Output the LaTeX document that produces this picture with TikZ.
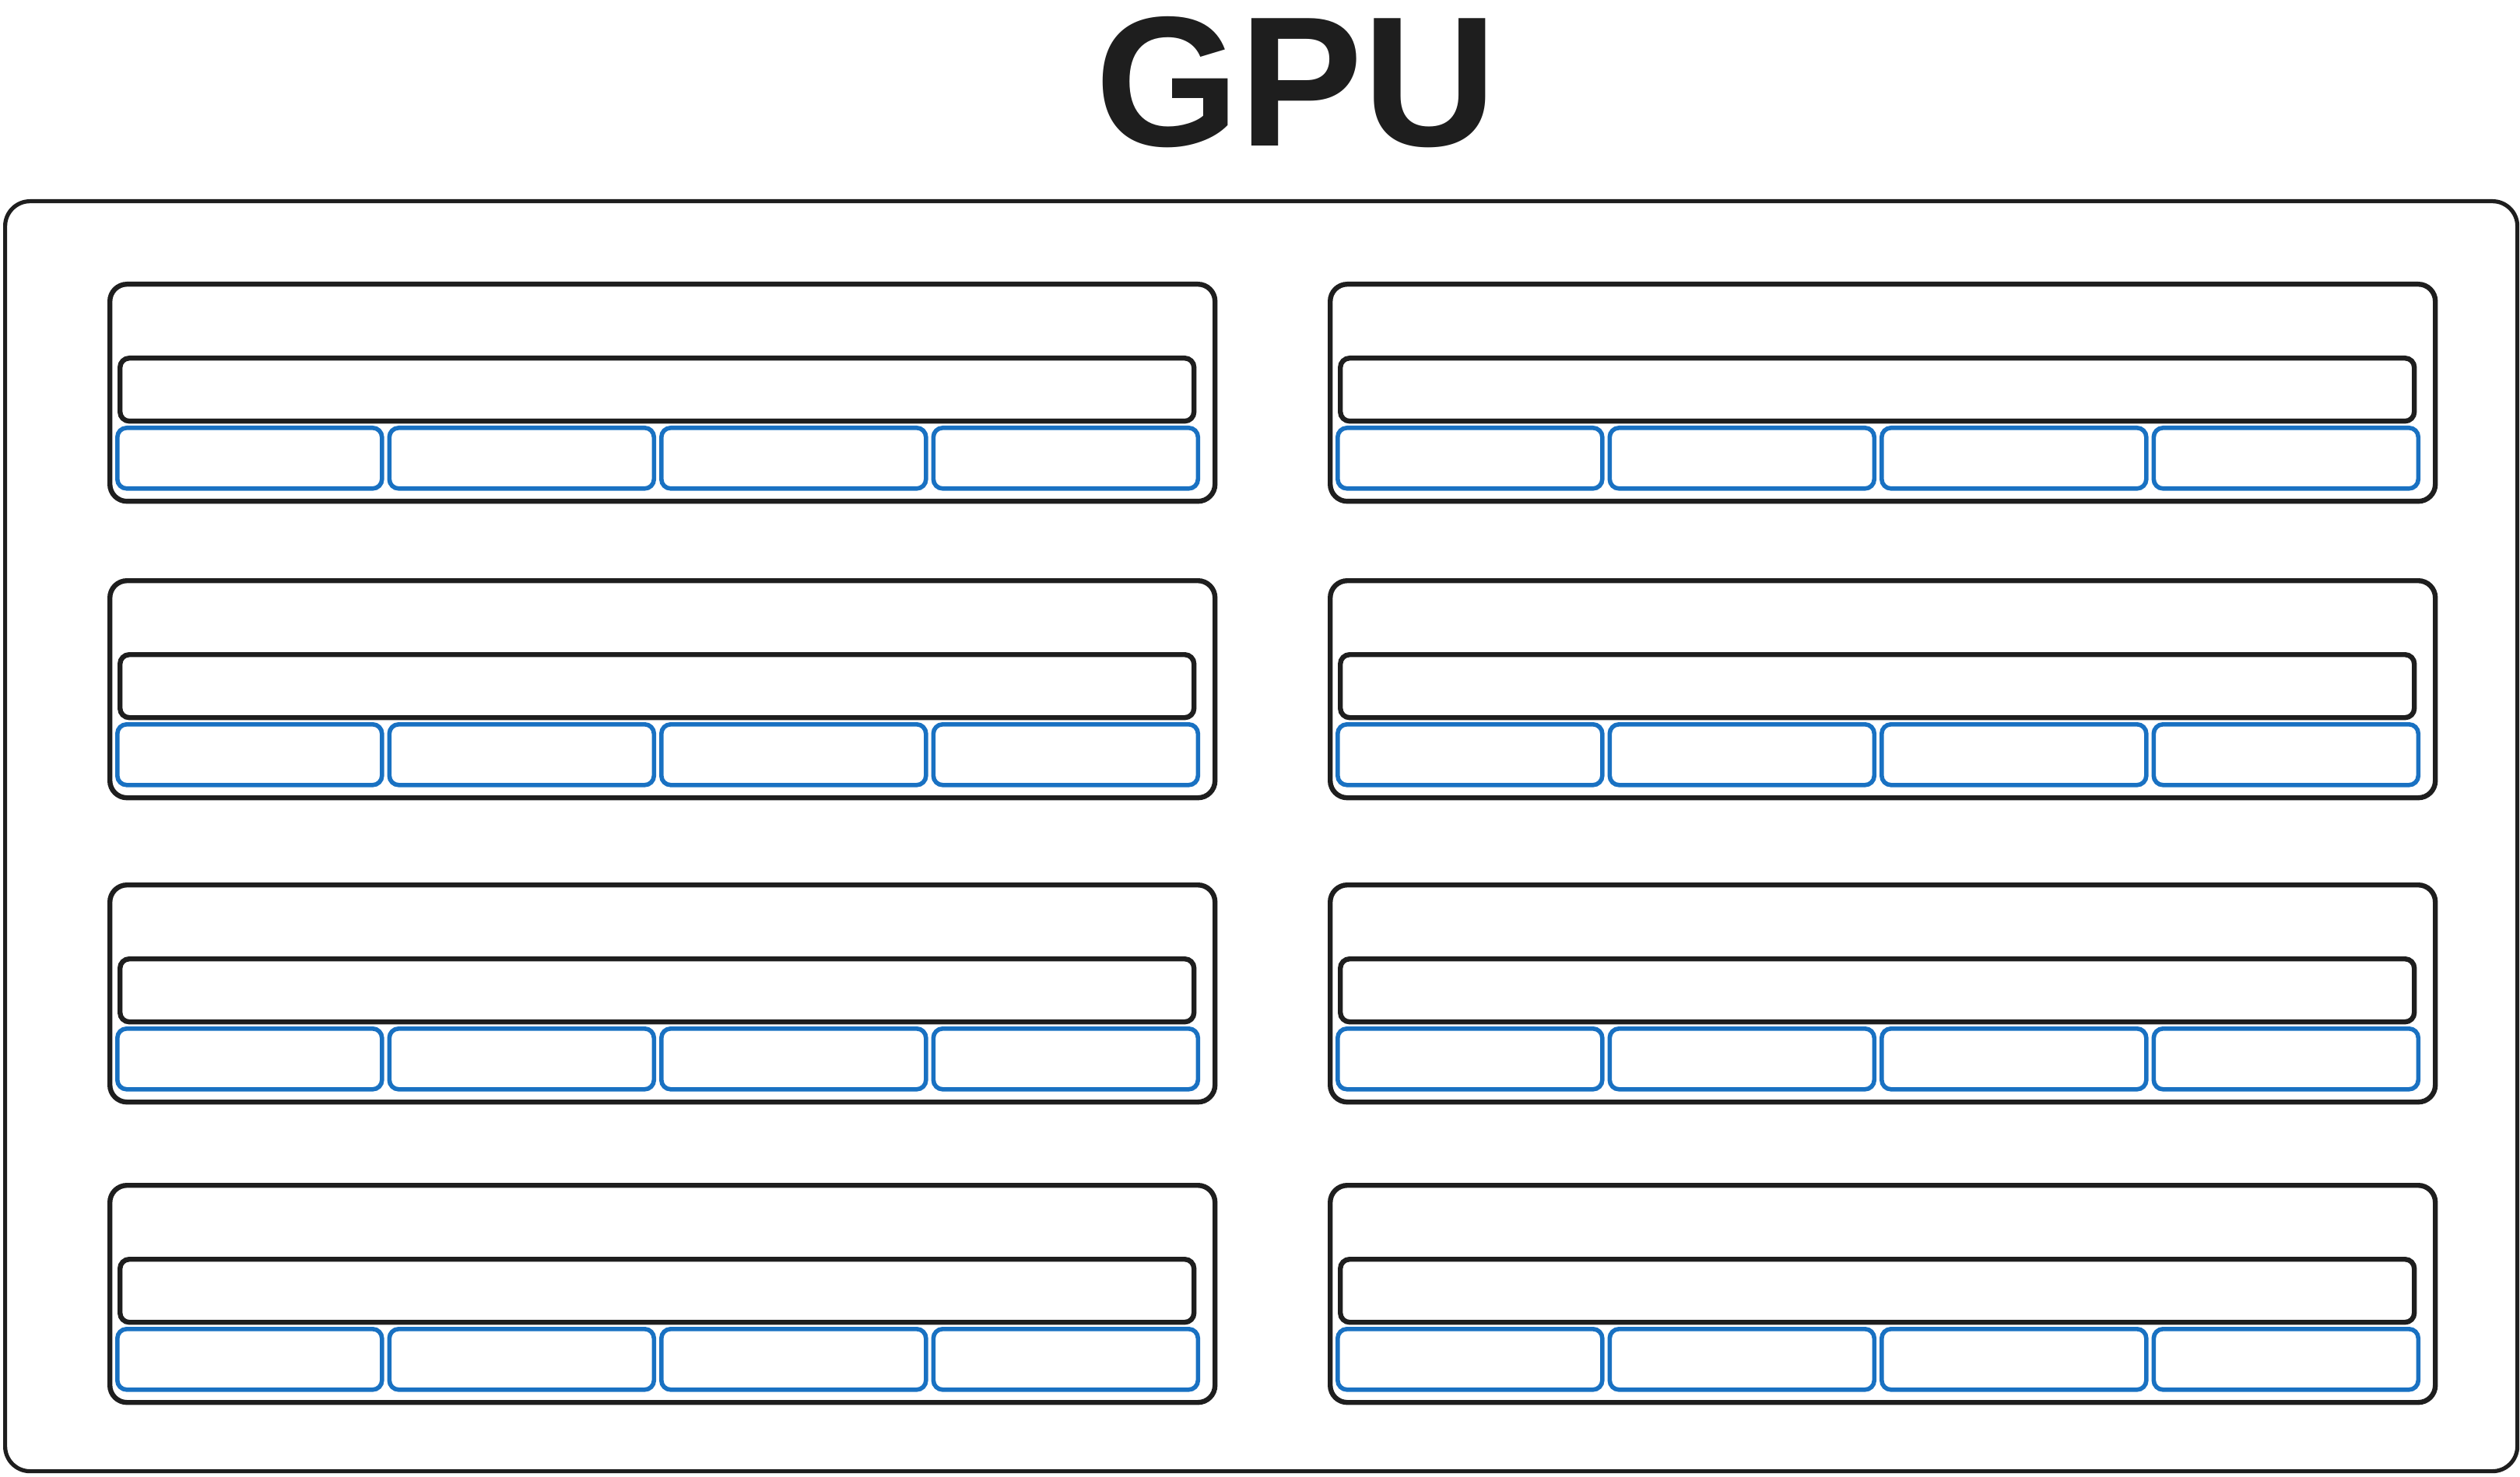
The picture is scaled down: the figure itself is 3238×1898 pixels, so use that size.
\documentclass[tikz,border=0pt]{standalone}
\usepackage{fontspec}
\setmainfont{Liberation Sans}
\definecolor{ink}{HTML}{1E1E1E}
\definecolor{coreblue}{HTML}{1971C2}
\begin{document}
\begin{tikzpicture}[x=0.5pt,y=-0.5pt,
  gpubox/.style={draw=ink,line width=2.6pt,rounded corners=16pt,inner sep=0pt,anchor=north west,
    minimum width=1614pt,minimum height=816pt},
  smbox/.style={draw=ink,line width=3.2pt,rounded corners=11pt,inner sep=0pt,anchor=north west,
    minimum width=710pt,minimum height=139.5pt},
  barbox/.style={draw=ink,line width=3.2pt,rounded corners=6pt,inner sep=0pt,anchor=north west,
    minimum width=690pt,minimum height=40.5pt},
  corebox/.style={draw=coreblue,line width=2.8pt,rounded corners=6pt,inner sep=0pt,anchor=north west,
    minimum width=170pt,minimum height=39pt}]
\useasboundingbox (0,0) rectangle (3238,1898);
\node[gpubox] (gpu) at (4,256) {};
\node[font=\fontsize{119}{119}\selectfont\bfseries,text=ink,inner sep=0pt,anchor=base] (title) at (1665,188) {GPU};
\foreach \c/\cx in {0/138,1/1706}{
  \foreach \r/\ry in {1/362,2/743,3/1134,4/1520}{
    \node[smbox] (sm-\c-\r) at (\cx,\ry) {};
    \node[barbox] (bar-\c-\r) at (\cx+13,\ry+95) {};
    \foreach \k in {0,1,2,3}{
      \node[corebox] (core-\c-\r-\k) at (\cx+10+\k*349.5,\ry+185) {};
    }
  }
}
\end{tikzpicture}
\end{document}
